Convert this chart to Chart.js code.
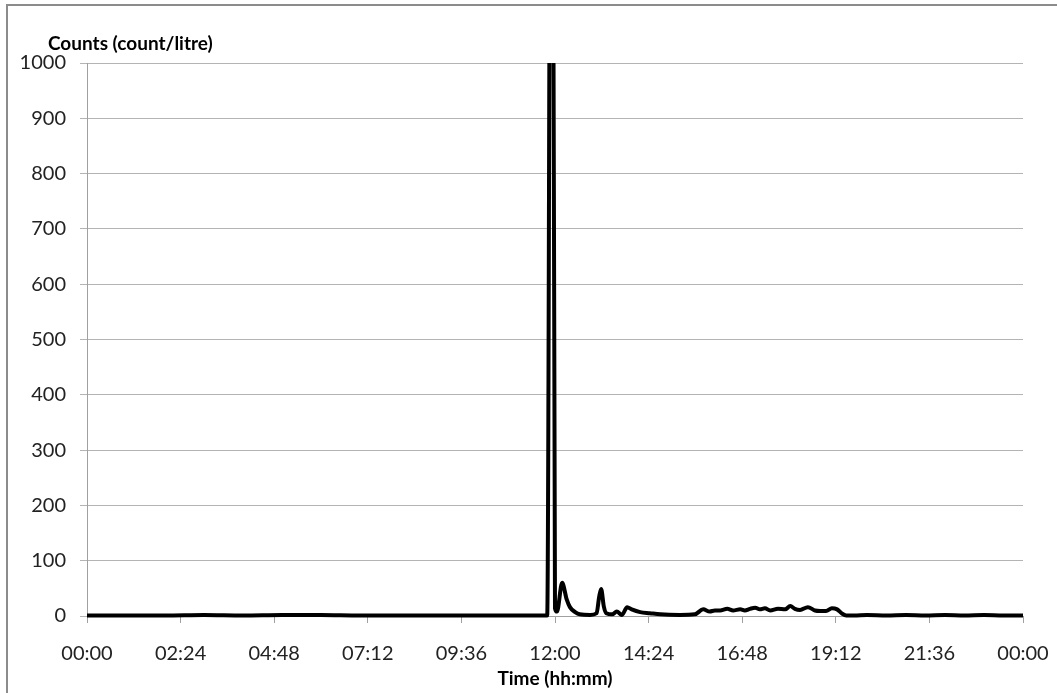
<!DOCTYPE html>
<html>
<head>
<meta charset="utf-8">
<script src="https://cdn.jsdelivr.net/npm/chart.js@4/dist/chart.umd.min.js"></script>
<style>
  html, body { margin: 0; padding: 0; background: #fff; }
  canvas { display: block; }
</style>
</head>
<body>
<canvas id="counts-chart" width="1057" height="693"></canvas>
<script>
// Particle counts over one day; x in minutes after midnight, y in count/litre.
var TIMES_MIN = [
  0, 60, 120, 180, 240, 300, 360, 420, 480, 540, 600, 660, 700, 708,
  715, 720, 723, 731, 738, 743, 751, 758, 774, 784, 788, 791, 795, 799,
  808, 815, 823, 831, 838, 851, 866, 882, 912, 935, 948, 958, 966, 974,
  985, 994, 1005, 1012, 1020, 1028, 1035, 1043, 1051, 1063, 1074, 1082,
  1089, 1097, 1109, 1120, 1128, 1137, 1146, 1154, 1162, 1168, 1180, 1200,
  1230, 1260, 1290, 1320, 1350, 1380, 1410, 1440
];
var COUNTS = [
  1, 1, 1, 2, 1, 2, 2, 1, 1, 1, 1, 1, 1, 1,
  2200, 14, 8, 60, 30, 16, 7, 3, 2, 5, 35, 49, 18, 5,
  3, 8, 2, 16, 12, 7, 5, 3, 2, 3, 12, 8, 10, 10,
  13, 10, 12, 10, 13, 15, 12, 14, 10, 13, 12, 18,
  13, 11, 16, 10, 9, 9, 14, 12, 4, 1, 1, 2,
  1, 2, 1, 2, 1, 2, 1, 1
];
var X_TICK_STEP = 144;   // 02:24 between labels
var Y_MAX = 1000;
var Y_STEP = 100;

function hhmm(v) {
  var m = Math.round(v) % 1440;
  var h = Math.floor(m / 60), mm = m % 60;
  return (h < 10 ? '0' : '') + h + ':' + (mm < 10 ? '0' : '') + mm;
}

var FONT = 'Lato, "Open Sans", sans-serif';

var frameAndTitle = {
  id: 'frameAndTitle',
  beforeDraw: function(chart) {
    var ctx = chart.ctx;
    ctx.save();
    ctx.strokeStyle = '#8c8c8c';
    ctx.lineWidth = 2;
    ctx.beginPath();
    ctx.moveTo(7, chart.height);
    ctx.lineTo(7, 5);
    ctx.lineTo(chart.width, 5);
    ctx.stroke();
    ctx.restore();
  },
  afterDraw: function(chart) {
    var ctx = chart.ctx;
    ctx.save();
    ctx.fillStyle = '#000';
    ctx.font = 'bold 19px ' + FONT;
    ctx.textAlign = 'left';
    ctx.textBaseline = 'middle';
    ctx.fillText('Counts (count/litre)', 48, 44);
    ctx.restore();
  }
};

new Chart(document.getElementById('counts-chart'), {
  type: 'line',
  data: {
    datasets: [{
      label: 'Counts',
      data: TIMES_MIN.map(function(t, i) { return { x: t, y: COUNTS[i] }; }),
      borderColor: '#000',
      borderWidth: 4,
      pointRadius: 0,
      cubicInterpolationMode: 'monotone',
      fill: false,
      clip: { left: 0, right: 0, top: 0, bottom: 5 }
    }]
  },
  options: {
    responsive: false,
    animation: false,
    layout: { padding: { top: 63, right: 34, bottom: 0, left: 0 } },
    plugins: {
      legend: { display: false },
      tooltip: { enabled: false }
    },
    scales: {
      x: {
        type: 'linear',
        min: 0,
        max: 1440,
        afterFit: function(s) {
          s.height = 77;
          // keep the plot edge fixed; the end label fits in the layout padding
          s.paddingLeft = 0;
          s.paddingRight = 0;
        },
        afterBuildTicks: function(s) {
          var t = [];
          for (var v = 0; v <= 1440; v += X_TICK_STEP) t.push({ value: v });
          s.ticks = t;
        },
        ticks: {
          callback: function(v) { return hhmm(v); },
          font: { family: FONT, size: 20 },
          color: '#222',
          padding: 19,
          maxRotation: 0,
          autoSkip: false
        },
        grid: {
          drawOnChartArea: false,
          drawTicks: true,
          tickLength: 7,
          color: '#a0a0a0'
        },
        border: { color: '#a0a0a0' },
        title: {
          display: true,
          text: 'Time (hh:mm)',
          font: { family: FONT, size: 19, weight: 'bold' },
          color: '#000',
          padding: { top: 0, bottom: 3 }
        }
      },
      y: {
        min: 0,
        max: Y_MAX,
        afterFit: function(s) { s.width = 87; },
        ticks: {
          stepSize: Y_STEP,
          callback: function(v) { return String(v); },
          font: { family: FONT, size: 20 },
          color: '#222',
          padding: 14
        },
        grid: {
          color: '#b4b4b4',
          tickLength: 7
        },
        border: { color: '#a0a0a0' }
      }
    }
  },
  plugins: [frameAndTitle]
});
</script>
</body>
</html>
